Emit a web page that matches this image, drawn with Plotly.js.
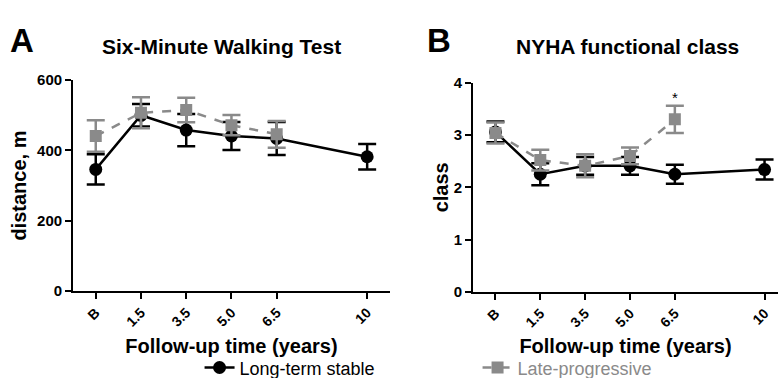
<!DOCTYPE html>
<html>
<head>
<meta charset="utf-8">
<script src="https://cdn.plot.ly/plotly-3.0.1.min.js"></script>
<style>html,body{margin:0;padding:0;background:#fff}#chart{width:778px;height:378px}</style>
</head>
<body>
<div id="chart"></div>
<script>
// category positions and tick labels
var timeIndex = [0, 1, 2, 3, 4, 6];
var timeLabels = ["B", "1.5", "3.5", "5.0", "6.5", "10"];
var lateIndex = [0, 1, 2, 3, 4];

// Six-minute walking test (m)
var walkStable = [346, 500, 458, 441, 434, 382];
var walkStableErr = [43, 32, 46, 40, 47, 36];
var walkLate = [441, 507, 515, 472, 446];
var walkLateErr = [45, 44, 35, 29, 38];

// NYHA class
var nyhaStable = [3.06, 2.25, 2.41, 2.41, 2.25, 2.34];
var nyhaStableErr = [0.20, 0.21, 0.17, 0.17, 0.18, 0.19];
var nyhaLate = [3.04, 2.52, 2.41, 2.60, 3.30];
var nyhaLateErr = [0.20, 0.20, 0.22, 0.16, 0.26];

var BLACK = "#000000", GRAY = "#8a8a8a";
var FONT = "Liberation Sans, Arial, sans-serif";

function stable(x, y, e, xa, ya, show) {
  return {x: x, y: y, xaxis: xa, yaxis: ya, type: "scatter", mode: "lines+markers",
    name: "Long-term stable", showlegend: show,
    line: {color: BLACK, width: 2.5},
    marker: {symbol: "circle", size: 13, color: BLACK},
    error_y: {type: "data", array: e, visible: true, color: BLACK, thickness: 2.5, width: 9}};
}
function late(x, y, e, xa, ya, show) {
  return {x: x, y: y, xaxis: xa, yaxis: ya, type: "scatter", mode: "lines+markers",
    name: '<span style="color:#8a8a8a">Late-progressive</span>', showlegend: show,
    line: {color: GRAY, width: 2.5, dash: "dash"},
    marker: {symbol: "square", size: 12, color: GRAY},
    error_y: {type: "data", array: e, visible: true, color: GRAY, thickness: 2.5, width: 9}};
}

var data = [
  stable(timeIndex, walkStable, walkStableErr, "x", "y", true),
  late(lateIndex, walkLate, walkLateErr, "x", "y", true),
  stable(timeIndex, nyhaStable, nyhaStableErr, "x2", "y2", false),
  late(lateIndex, nyhaLate, nyhaLateErr, "x2", "y2", false)
];

function xaxis(domain, range, anchor) {
  return {domain: domain, range: range, anchor: anchor,
    tickvals: timeIndex, ticktext: timeLabels, tickangle: -45,
    showline: true, linecolor: BLACK, linewidth: 2, ticks: "outside", ticklen: 6, tickwidth: 2, tickcolor: BLACK,
    showgrid: false, zeroline: false,
    tickfont: {family: FONT, size: 14, color: BLACK, weight: "bold"},
    title: {text: "<b>Follow-up time (years)</b>", standoff: 10, font: {family: FONT, size: 20, color: BLACK}}};
}
function yaxis(domain, range, dtick, anchor, title, standoff) {
  return {domain: domain, range: range, dtick: dtick, anchor: anchor,
    showline: true, linecolor: BLACK, linewidth: 2, ticks: "outside", ticklen: 6, tickwidth: 2, tickcolor: BLACK,
    showgrid: false, zeroline: false,
    tickfont: {family: FONT, size: 15, color: BLACK, weight: "bold"},
    title: {text: "<b>" + title + "</b>", standoff: standoff, font: {family: FONT, size: 20, color: BLACK}}};
}

var layout = {
  width: 778, height: 378,
  margin: {l: 0, r: 0, t: 0, b: 0, autoexpand: false},
  paper_bgcolor: "#fff", plot_bgcolor: "#fff",
  showlegend: true,
  legend: {orientation: "h", x: 0.2565, y: -0.022, xanchor: "left", yanchor: "bottom",
    font: {family: FONT, size: 18, color: BLACK},
    entrywidth: 233, entrywidthmode: "pixels", itemwidth: 30, tracegroupgap: 0},
  xaxis: xaxis([0.094, 0.501], [-0.5, 6.5], "y"),
  yaxis: yaxis([0.230, 0.788], [0, 600], 200, "x", "distance, m", 5),
  xaxis2: xaxis([0.608, 1.0], [-0.5, 6.3], "y2"),
  yaxis2: yaxis([0.228, 0.781], [0, 4], 1, "x2", "class", 0),
  annotations: [
    {text: "<b>A</b>", xref: "paper", yref: "paper", x: 0.01, y: 0.894, xanchor: "left", yanchor: "middle", showarrow: false, font: {family: FONT, size: 33, color: BLACK}},
    {text: "<b>B</b>", xref: "paper", yref: "paper", x: 0.546, y: 0.894, xanchor: "left", yanchor: "middle", showarrow: false, font: {family: FONT, size: 33, color: BLACK}},
    {text: "<b>Six-Minute Walking Test</b>", xref: "paper", yref: "paper", x: 0.285, y: 0.878, xanchor: "center", yanchor: "middle", showarrow: false, font: {family: FONT, size: 21, color: BLACK}},
    {text: "<b>NYHA functional class</b>", xref: "paper", yref: "paper", x: 0.807, y: 0.878, xanchor: "center", yanchor: "middle", showarrow: false, font: {family: FONT, size: 21, color: BLACK}},
    {text: "*", xref: "x2", yref: "y2", x: 4, y: 3.72, showarrow: false, font: {family: FONT, size: 15, color: BLACK}}
  ]
};

Plotly.newPlot("chart", data, layout, {staticPlot: true, displayModeBar: false});
</script>
</body>
</html>
